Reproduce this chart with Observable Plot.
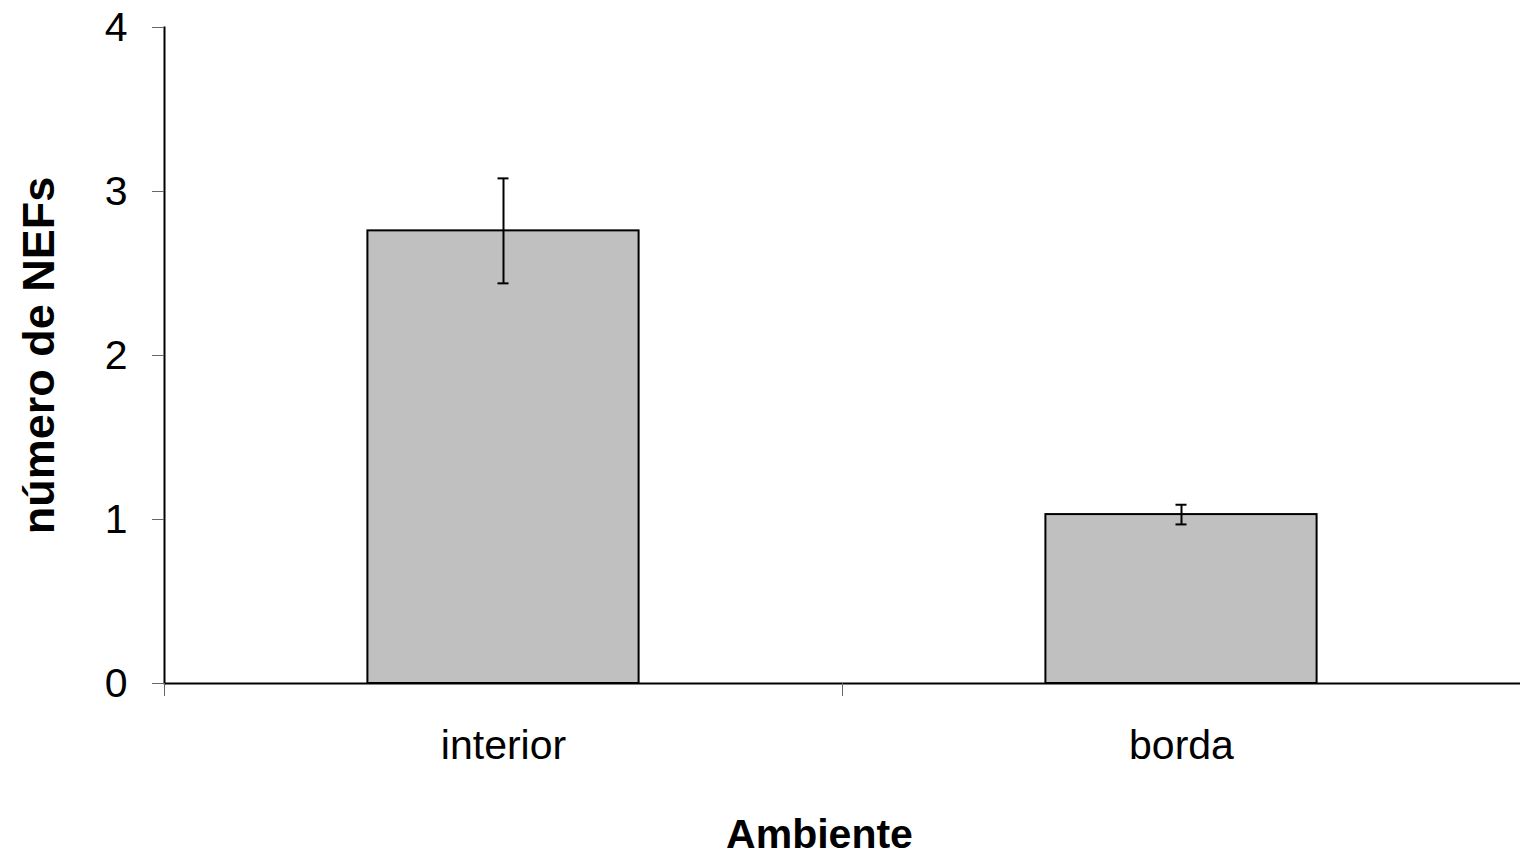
<!DOCTYPE html>
<html>
<head>
<meta charset="utf-8">
<script src="https://cdn.jsdelivr.net/npm/d3@7"></script>
<script src="https://cdn.jsdelivr.net/npm/@observablehq/plot@0.6"></script>
<style>
  html, body { margin: 0; padding: 0; background: #fff; }
  #chart svg { display: block; }
</style>
</head>
<body>
<div id="chart"></div>
<script>
const categories = ["interior", "borda"];
const means = [2.76, 1.03];
const errors = [0.32, 0.06];
const yTicks = [0, 1, 2, 3, 4];

const rows = categories.map((c, i) => ({
  ambiente: c,
  value: means[i],
  lo: means[i] - errors[i],
  hi: means[i] + errors[i]
}));

const W = 1520, H = 861;
const mL = 164, mR = 0, mT = 27, mB = 178;
const step = (W - mL - mR) / categories.length;
const barWidth = 0.4 * step;
const capWidth = 11;
const font = "Arial, 'Liberation Sans', sans-serif";

const chart = Plot.plot({
  width: W,
  height: H,
  marginLeft: mL,
  marginRight: mR,
  marginTop: mT,
  marginBottom: mB,
  style: { fontFamily: font, fontSize: "41px", color: "#000", background: "#fff" },
  x: { domain: categories, padding: 0, label: null },
  y: { domain: [0, 4], label: null },
  marks: [
    Plot.barY(rows, {
      x: "ambiente", y: "value",
      fill: "#c0c0c0", stroke: "#000", strokeWidth: 2,
      insetLeft: (step - barWidth) / 2, insetRight: (step - barWidth) / 2
    }),
    Plot.ruleX(rows, { x: "ambiente", y1: "lo", y2: "hi", stroke: "#000", strokeWidth: 2 }),
    Plot.tickY(rows, { x: "ambiente", y: "lo", stroke: "#000", strokeWidth: 2,
      insetLeft: (step - capWidth) / 2, insetRight: (step - capWidth) / 2 }),
    Plot.tickY(rows, { x: "ambiente", y: "hi", stroke: "#000", strokeWidth: 2,
      insetLeft: (step - capWidth) / 2, insetRight: (step - capWidth) / 2 }),
    Plot.ruleY([0], { stroke: "#000", strokeWidth: 2 }),
    Plot.frame({ anchor: "left", stroke: "#000", strokeWidth: 2 }),
    Plot.axisY({
      ticks: yTicks, tickFormat: d3.format("d"), tickSize: 12, tickPadding: 25, stroke: "#666",
      fontSize: 41, label: "número de NEFs", labelAnchor: "center",
      labelArrow: "none", labelOffset: 142
    }),
    Plot.axisX({ tickSize: 0, tickPadding: 46, fontSize: 41, label: "Ambiente",
      labelAnchor: "center", labelArrow: "none", labelOffset: 164 }),
    Plot.axisX({ tickSize: 13, tickFormat: () => "", stroke: "#666", dx: -step / 2, label: null })
  ]
});

document.getElementById("chart").appendChild(chart);

// Bold axis titles, sized as in the reference
chart.querySelectorAll("[aria-label='y-axis label'] text").forEach(t => {
  t.setAttribute("font-weight", "bold");
  t.setAttribute("font-size", "45");
});
chart.querySelectorAll("[aria-label='x-axis label'] text").forEach(t => {
  t.setAttribute("font-weight", "bold");
  t.setAttribute("dx", "-23");
});
</script>
</body>
</html>
